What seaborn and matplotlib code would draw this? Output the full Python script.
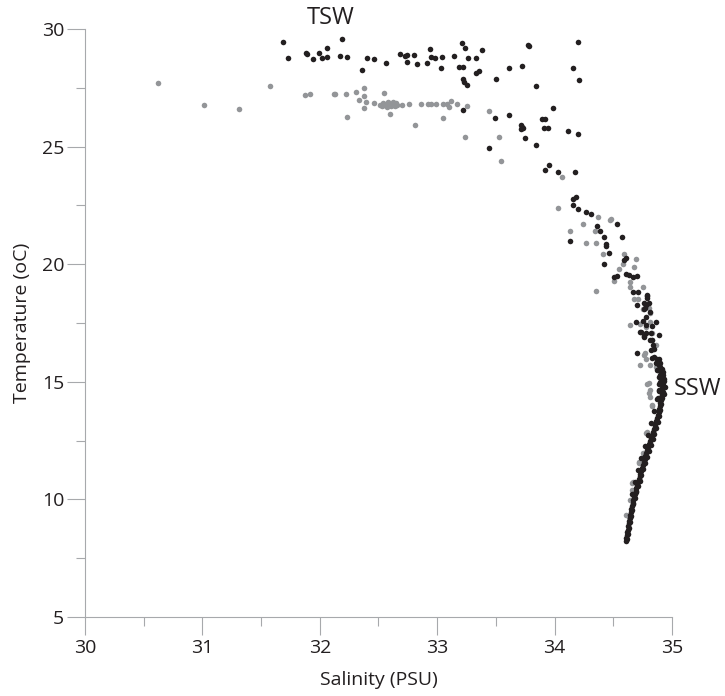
import matplotlib
matplotlib.use("Agg")
import matplotlib.pyplot as plt
import pandas as pd
import seaborn as sns

# black series (salinity, temperature)
black_sal = [
    31.69, 31.73, 31.88, 31.89, 31.94, 31.99, 32.02, 32.06, 32.06, 32.17,
    32.19, 32.23, 32.36, 32.40, 32.46, 32.56, 32.68, 32.73, 32.74, 32.74,
    32.80, 32.83, 32.91, 32.94, 32.95, 32.98, 33.04, 33.03, 33.14, 33.19,
    33.22, 33.21, 33.24, 33.26, 33.33, 33.38, 33.22, 33.23, 33.25, 33.33,
    33.36, 33.50, 33.61, 33.72, 33.77, 33.78, 33.84, 34.20, 34.16, 34.21,
    33.22, 33.49, 33.61, 33.99, 33.89, 33.92, 33.71, 33.72, 33.73, 33.71,
    33.91, 33.94, 34.11, 34.20, 33.75, 33.84, 33.44, 33.95, 33.92, 34.03,
    34.17, 34.16, 34.18, 34.16, 34.20, 34.27, 34.31, 34.53, 34.36, 34.39,
    34.42, 34.44, 34.44, 34.13, 34.57, 34.46, 34.42, 34.59, 34.61, 34.53,
    34.51, 34.61, 34.63, 34.67, 34.70, 34.67, 34.71, 34.79, 34.79, 34.76,
    34.78, 34.70, 34.76, 34.81, 34.78, 34.86, 34.69, 34.83, 34.73, 34.76,
    34.78, 34.89, 34.81, 34.84, 34.82, 34.70, 34.85, 34.87, 34.88, 34.90,
    34.79, 34.80, 34.77, 34.75, 34.78, 34.74, 34.82, 34.76, 34.83, 34.85,
    34.83,
    # dense deep branch
    34.606, 34.610, 34.614, 34.619, 34.622, 34.627, 34.631, 34.636, 34.640, 34.645,
    34.650, 34.655, 34.660, 34.665, 34.670, 34.677, 34.683, 34.690, 34.697, 34.704,
    34.710, 34.717, 34.724, 34.731, 34.737, 34.744, 34.752, 34.759, 34.766, 34.774,
    34.782, 34.790, 34.798, 34.806, 34.815, 34.823, 34.830, 34.838, 34.846, 34.853,
    34.859, 34.866, 34.873, 34.879, 34.885, 34.890, 34.895, 34.900, 34.904, 34.908,
    34.912, 34.915, 34.918, 34.920, 34.921, 34.919, 34.915, 34.910, 34.905, 34.898,
    34.890, 34.882, 34.875,
    34.880, 34.890, 34.885, 34.890, 34.875, 34.860, 34.935, 34.940, 34.935, 34.925,
    34.618, 34.625, 34.634, 34.643, 34.652, 34.662, 34.672, 34.684, 34.697, 34.712,
    34.726, 34.740, 34.754, 34.770, 34.786, 34.802, 34.818, 34.834, 34.850, 34.866,
    34.878, 34.890, 34.900, 34.910, 34.918, 34.926, 34.930, 34.928, 34.920, 34.912,
    34.895,
    34.660, 34.685, 34.712, 34.740, 34.768, 34.796, 34.825, 34.850, 34.872, 34.888,
    34.898, 34.905, 34.900, 34.890,
]
black_temp = [
    29.46, 28.75, 28.99, 28.94, 28.71, 28.99, 28.78, 29.18, 28.80, 28.85,
    29.56, 28.80, 28.24, 28.78, 28.71, 28.54, 28.92, 28.85, 28.89, 28.60,
    28.89, 28.51, 28.54, 29.15, 28.82, 28.77, 28.80, 28.36, 28.85, 28.37,
    28.40, 29.42, 29.20, 28.77, 28.75, 29.11, 27.87, 27.73, 27.63, 28.12,
    28.23, 27.86, 28.34, 28.43, 29.32, 29.29, 27.59, 29.45, 28.33, 27.83,
    26.56, 26.20, 26.33, 26.65, 26.18, 26.18, 25.91, 25.82, 25.80, 25.73,
    25.78, 25.78, 25.65, 25.52, 25.38, 25.07, 24.94, 24.23, 24.02, 23.91,
    23.92, 22.77, 22.86, 22.52, 22.36, 22.23, 22.12, 21.71, 21.62, 21.42,
    21.14, 20.86, 20.79, 20.97, 21.14, 20.46, 20.02, 20.17, 20.25, 19.50,
    19.46, 19.57, 19.54, 19.47, 19.51, 18.82, 18.82, 18.69, 18.55, 18.36,
    18.28, 18.27, 18.08, 17.98, 17.77, 17.56, 17.56, 17.37, 17.10, 16.95,
    17.06, 16.98, 16.78, 16.58, 16.35, 16.24, 16.07, 15.86, 15.50, 15.29,
    18.66, 18.34, 18.13, 17.60, 17.41, 17.13, 17.09, 16.92, 16.78, 16.38,
    16.00,
    8.22, 8.35, 8.48, 8.60, 8.72, 8.85, 8.98, 9.10, 9.22, 9.35,
    9.48, 9.60, 9.72, 9.85, 9.98, 10.10, 10.22, 10.35, 10.48, 10.60,
    10.72, 10.85, 10.98, 11.10, 11.22, 11.35, 11.48, 11.60, 11.72, 11.85,
    11.98, 12.10, 12.22, 12.35, 12.48, 12.60, 12.72, 12.85, 12.98, 13.10,
    13.22, 13.35, 13.48, 13.60, 13.72, 13.85, 13.98, 14.10, 14.22, 14.35,
    14.48, 14.60, 14.72, 14.85, 14.98, 15.10, 15.22, 15.35, 15.48, 15.60,
    15.72, 15.85, 15.98,
    14.30, 14.60, 14.90, 15.20, 15.50, 15.80, 14.50, 14.80, 15.10, 15.40,
    8.30, 8.55, 8.80, 9.05, 9.30, 9.55, 9.80, 10.05, 10.30, 10.55,
    10.80, 11.05, 11.30, 11.55, 11.80, 12.05, 12.30, 12.55, 12.80, 13.05,
    13.30, 13.55, 13.80, 14.05, 14.30, 14.55, 14.80, 15.05, 15.30, 15.55,
    15.80,
    10.25, 10.75, 11.25, 11.75, 12.25, 12.75, 13.25, 13.75, 14.25, 14.65,
    15.00, 15.35, 15.65, 15.95,
]

# gray series
gray_sal = [
    30.62, 31.01, 31.31, 31.58, 31.87, 31.92, 32.12, 32.13, 32.22, 32.31,
    32.38, 32.38, 32.33, 32.39, 32.46, 32.38, 32.23, 32.55, 32.60,
    32.51, 32.53, 32.54, 32.55, 32.56, 32.57, 32.58, 32.59, 32.60, 32.61,
    32.62, 32.63, 32.64, 32.65, 32.66,
    32.70, 32.76, 32.86, 32.92, 32.95, 32.99, 33.05, 33.08, 33.10, 33.12,
    33.17, 33.25, 32.81, 33.05, 33.44, 33.24, 33.53, 33.54, 34.06, 34.03,
    34.24, 34.13, 34.34, 34.37, 34.47, 34.48, 34.27, 34.35, 34.41, 34.59,
    34.69, 34.58, 34.55, 34.68, 34.51, 34.64, 34.64, 34.75, 34.35, 34.68,
    34.71, 34.80, 34.64, 34.73, 34.78, 34.81, 34.83, 34.83, 34.86, 34.76,
    34.78, 34.73, 34.81, 34.86, 34.75, 34.81, 34.77, 34.80, 34.81, 34.83,
    34.81, 34.79, 34.80, 34.78, 34.72, 34.66, 34.63, 34.83, 34.79, 34.75,
    34.72, 34.67, 34.66, 34.61, 34.64,
]
gray_temp = [
    27.69, 26.77, 26.60, 27.58, 27.21, 27.22, 27.25, 27.25, 27.24, 27.31,
    27.50, 27.16, 26.99, 26.90, 26.85, 26.65, 26.26, 27.28, 26.40,
    26.78, 26.72, 26.85, 26.75, 26.80, 26.70, 26.88, 26.76, 26.82, 26.72,
    26.90, 26.78, 26.74, 26.84, 26.78,
    26.75, 26.82, 26.82, 26.80, 26.82, 26.80, 26.82, 26.80, 26.70, 26.95,
    26.80, 26.73, 25.93, 26.22, 26.50, 25.42, 25.41, 24.40, 23.71, 22.41,
    21.71, 21.41, 21.42, 21.99, 21.89, 21.92, 20.89, 20.91, 20.43, 20.43,
    20.23, 20.01, 19.78, 19.89, 19.27, 19.26, 19.02, 19.04, 18.86, 18.52,
    18.51, 18.13, 17.43, 17.46, 17.34, 17.56, 17.06, 16.78, 16.56, 16.13,
    15.97, 15.71, 15.71, 15.64, 18.08, 17.91, 16.21, 14.94, 14.65, 14.01,
    14.37, 14.89, 14.54, 12.81, 11.53, 10.68, 9.27, 13.98, 12.85, 11.96,
    11.60, 10.75, 10.40, 9.34, 9.97,
]

black_df = pd.DataFrame({"sal": black_sal, "temp": black_temp})
gray_df = pd.DataFrame({"sal": gray_sal, "temp": gray_temp})

sns.set_style("ticks")
plt.rcParams['font.family'] = ['Open Sans', 'DejaVu Sans']
ink = "#231f20"
axis_col = "#a7a9ac"

fig = plt.figure(figsize=(7.25, 6.96), dpi=100)
ax = fig.add_axes([0.1172, 0.1135, 0.8097, 0.8448])

sns.scatterplot(data=gray_df, x="sal", y="temp", color="#939598", s=16,
                linewidth=0, ax=ax, zorder=2)
sns.scatterplot(data=black_df, x="sal", y="temp", color=ink, s=16,
                linewidth=0, ax=ax, zorder=3)

ax.set_xlim(30, 35)
ax.set_ylim(5, 30)
ax.set_xticks([30, 31, 32, 33, 34, 35])
ax.set_xticks([30.5, 31.5, 32.5, 33.5, 34.5], minor=True)
ax.set_yticks([5, 10, 15, 20, 25, 30])
ax.set_yticks([7.5, 12.5, 17.5, 22.5, 27.5], minor=True)

for side in ["top", "right"]:
    ax.spines[side].set_visible(False)
for side in ["left", "bottom"]:
    ax.spines[side].set_color(axis_col)
    ax.spines[side].set_linewidth(0.8)

ax.tick_params(which="major", length=13, width=0.8, color=axis_col,
               labelsize=14, labelcolor=ink)
ax.tick_params(axis="x", which="major", pad=3)
ax.tick_params(axis="y", which="major", pad=2)
ax.tick_params(which="minor", length=6.5, width=0.8, color=axis_col)

ax.set_xlabel("Salinity (PSU)", fontsize=14, color=ink, labelpad=10)
ax.set_ylabel("Temperature (oC)", fontsize=14, color=ink, labelpad=8)

ax.text(32.09, 30.47, "TSW", fontsize=17, color=ink, ha="center", va="center",
        clip_on=False)
ax.text(35.22, 14.69, "SSW", fontsize=17, color=ink, ha="center", va="center",
        clip_on=False)

fig.savefig("out.png", dpi=100)
